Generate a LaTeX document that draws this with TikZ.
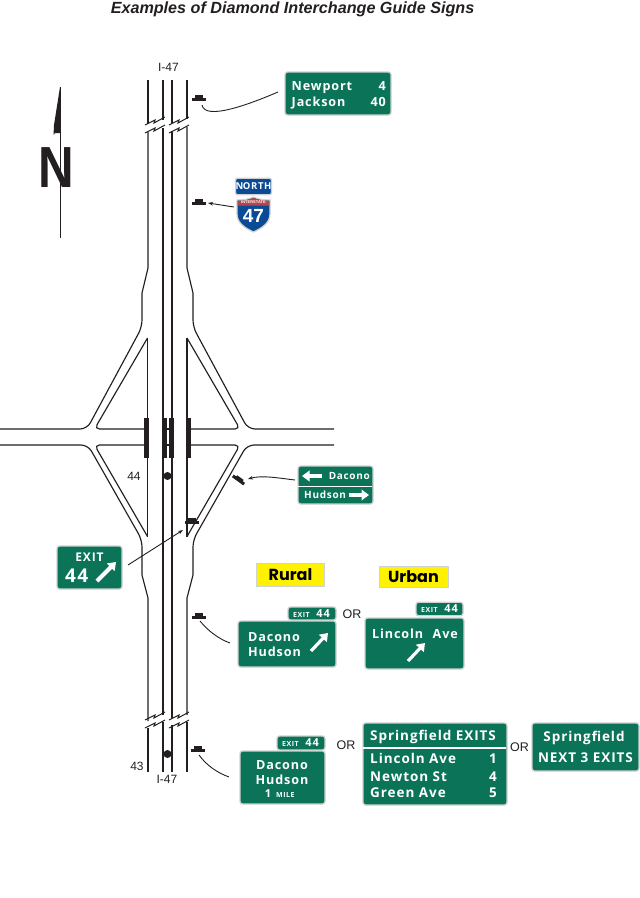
\documentclass[tikz,border=0pt]{standalone}
\usepackage{fontspec}
\setmainfont{Liberation Sans}
\newfontfamily\signfont[LetterSpace=7]{Open Sans}
\newfontfamily\labfont{Poppins}
\usetikzlibrary{positioning,arrows.meta}
\definecolor{signgreen}{HTML}{0A7358}
\definecolor{signedge}{HTML}{CFD3D1}
\definecolor{shieldblue}{HTML}{0B4A94}
\definecolor{shieldred}{HTML}{B2474F}
\definecolor{roadink}{HTML}{231F20}
\newcommand{\fsz}[1]{\fontsize{#1}{#1}\selectfont}
\tikzset{
  road/.style={draw=roadink, line width=1.15pt},
  brk/.style={draw=roadink, line width=1pt},
  bridgebar/.style={fill=roadink, draw=none, minimum width=5pt, minimum height=40pt, inner sep=0pt},
  signbar/.style={fill=roadink, draw=none, minimum width=14pt, minimum height=3pt, inner sep=0pt},
  signbump/.style={fill=roadink, draw=none, minimum width=8pt, minimum height=3pt, inner sep=0pt},
  markdot/.style={circle, fill=roadink, draw=none, minimum size=8pt, inner sep=0pt},
  greensign/.style={draw=signedge, fill=signgreen, line width=1.3pt, rounded corners=2.5pt, inner sep=0pt},
  leader/.style={draw=roadink, line width=0.9pt},
  leadarrow/.style={leader, -{Stealth[length=5pt, width=3.6pt]}},
  signarrow/.style={draw=white, line width=3.2pt, -{Triangle[length=7.5pt, width=10.5pt]}},
  bigtext/.style={text=white, inner sep=0pt, font=\signfont\bfseries\fsz{12.6}},
  listtext/.style={text=white, inner sep=0pt, font=\signfont\bfseries\fsz{13.5}},
  midtext/.style={text=white, inner sep=0pt, font=\signfont\bfseries\fsz{10}},
  tabnum/.style={text=white, inner sep=0pt, font=\signfont\bfseries\fsz{11}},
  smalltext/.style={text=white, inner sep=0pt, font=\signfont\bfseries\fsz{7}},
  plainlab/.style={text=roadink, inner sep=0pt, font=\fsz{12}},
  orlab/.style={text=roadink, inner sep=0pt, font=\fsz{12.5}},
  areabox/.style={fill=yellow, draw=signedge, line width=0.5pt, inner sep=0pt, text=black,
    font=\labfont\bfseries\fsz{16}},
}
\begin{document}
\begin{tikzpicture}[x=1pt, y=-1pt]
\useasboundingbox (0,0) rectangle (640,898);
\node[font=\bfseries\itshape\fsz{16.15}, text=roadink, inner sep=0pt] (title) at (292.5,9.5) {Examples of Diamond Interchange Guide Signs};
% north arrow
\node[font=\bfseries\fsz{58}, text=roadink, inner sep=0pt, xscale=0.85] (northn) at (56,168) {N};
\draw[roadink, line width=0.9pt] (60,87) -- (60,238);
\fill[roadink] (60,87) -- (60,133) -- (55,133) -- (53.5,135) -- (54,125) -- cycle;
% freeway, top and bottom breaks
\draw[road] (148,80) -- (148,124);
\draw[road] (163,80) -- (163,120);
\draw[road] (172,80) -- (172,123);
\draw[road] (187,80) -- (187,119);
\draw[road] (163,128) -- (163,715);
\draw[road] (163,722) -- (163,772);
\draw[road] (172,131) -- (172,718);
\draw[road] (172,725) -- (172,772);
\draw[road] (148,728) -- (148,772);
\draw[road] (187,722) -- (187,772);
\foreach \dx/\dy in {0/0, 24/0, 0/595, 24/595} {
  \draw[brk] (145+\dx,125+\dy) -- (155+\dx,120+\dy) -- (154+\dx,123+\dy) -- (165+\dx,117+\dy);
  \draw[brk] (145+\dx,133+\dy) -- (155+\dx,128+\dy) -- (154+\dx,131+\dy) -- (165+\dx,125+\dy);
}
% ramps and crossroad
\draw[road] (148,132) -- (148,268) -- (142,293) -- (142,315) [rounded corners=7pt] -- (142,327) -- (87,429) -- (0,429);
\draw[road] (187,127) -- (187,268) -- (193,293) -- (193,315) [rounded corners=7pt] -- (193,327) -- (248,429) -- (334,429);
\draw[road, rounded corners=7pt] (0,445) -- (88,445) -- (142,540) -- (142,555) [sharp corners] -- (142,575) -- (148,598) -- (148,721);
\draw[road, rounded corners=7pt] (334,445) -- (247,445) -- (193,540) -- (193,555) [sharp corners] -- (193,575) -- (187,598) -- (187,715);
\draw[road] (147.5,338) -- (147.5,536.5);
\draw[road] (187,338) -- (187,536.5);
\draw[road, rounded corners=5pt] (147.5,338) -- (94.5,429) -- (147.5,429);
\draw[road, rounded corners=5pt] (187,338) -- (240,429) -- (187,429);
\draw[road, rounded corners=5pt] (147.5,536.5) -- (94.5,445) -- (147.5,445);
\draw[road, rounded corners=5pt] (187,536.5) -- (240,445) -- (187,445);
\draw[road] (163,429) -- (172,429);
\draw[road] (163,445) -- (172,445);
% bridges
\node[bridgebar] (bra) at (146.8,438) {};
\node[bridgebar] (brb) at (164.3,438) {};
\node[bridgebar] (brc) at (171.5,438) {};
\node[bridgebar] (brd) at (188,438) {};
% exit markers and route labels
\node[markdot] (dottop) at (167.5,476) {};
\node[markdot] (dotbot) at (167.5,754) {};
\node[plainlab] (lab44) at (134,476) {44};
\node[plainlab] (lab43) at (137,766) {43};
\node[plainlab] (routetop) at (168.5,67) {I-47};
\node[plainlab] (routebot) at (167,779) {I-47};
% sign symbols
\node[signbar] (syma) at (199,99.3) {};
\node[signbump, above=-0.5pt of syma] (symab) {};
\node[signbar] (symb) at (199,203) {};
\node[signbump, above=-0.5pt of symb] (symbb) {};
\node[signbar] (symc) at (191.5,522.5) {};
\node[signbump, above=-0.5pt of symc] (symcb) {};
\node[signbar] (symd) at (199,617.5) {};
\node[signbump, above=-0.5pt of symd] (symdb) {};
\node[signbar] (syme) at (198,750) {};
\node[signbump, above=-0.5pt of syme] (symeb) {};
\node[signbar, rotate=-36] (symf) at (238.5,480) {};
\node[signbump, rotate=-36] (symfb) at (239.5,478.8) {};
% signs
\node[greensign, minimum width=106pt, minimum height=43pt] (newport) at (338,93.5) {};
\node[bigtext, anchor=base west] (newa) at (291.5,90) {Newport};
\node[bigtext, anchor=base east] (newb) at (386,90) {4};
\node[bigtext, anchor=base west] (newc) at (291.5,106) {Jackson};
\node[bigtext, anchor=base east] (newd) at (386,106) {40};
\coordinate (newtail) at (278,92);
\coordinate (newhead) at (202,105);
\draw[leader] (newtail) .. controls (250,104) and (205,121) .. (newhead);
% route shield
\node[draw=signedge, fill=shieldblue, line width=1.3pt, rounded corners=2pt, minimum width=34pt, minimum height=16.5pt, inner sep=0pt, text=white, font=\signfont\bfseries\fsz{9.5}] (northsign) at (253.5,186.5) {N\kern-0.4pt ORTH};
\draw[signedge, fill=shieldblue, line width=1.3pt] (237,200) .. controls (245,200) and (249,199) .. (253.5,197) .. controls (258,199) and (262,200) .. (270,200) -- (270,214) .. controls (270,223) and (262,228) .. (253.5,232) .. controls (245,228) and (237,223) .. (237,214) -- cycle;
\fill[shieldred] (237.7,200.6) .. controls (245,200.6) and (249,199.6) .. (253.5,197.8) .. controls (258,199.6) and (262,200.6) .. (269.3,200.6) -- (269.3,205.5) -- (237.7,205.5) -- cycle;
\node[text=white, inner sep=0pt, font=\bfseries\fsz{4}] (interstate) at (253.5,202.5) {INTERSTATE};
\node[text=white, inner sep=0pt, font=\bfseries\fsz{19}, anchor=base] (shield47) at (253.5,222) {47};
\coordinate (shieldtail) at (234,207);
\coordinate (shieldhead) at (208,203);
\draw[leadarrow] (shieldtail) -- (shieldhead);
% crossroad direction sign
\node[greensign, minimum width=75pt, minimum height=38pt] (dirsign) at (335.5,485) {};
\draw[white, line width=1pt] (dirsign.west) ++(0.6,1.5) -- ++(73.8,0);
\node[midtext, anchor=base east] (dira) at (370,479.5) {Dacono};
\node[midtext, anchor=base west] (dirb) at (304,498) {Hudson};
\coordinate (dirla) at (322,476);
\coordinate (dirlb) at (302,476);
\coordinate (dirra) at (349,495);
\coordinate (dirrb) at (369,495);
\draw[signarrow] (dirla) -- (dirlb);
\draw[signarrow] (dirra) -- (dirrb);
\coordinate (dirtail) at (295,480);
\coordinate (dirhead) at (248,479);
\draw[leadarrow] (dirtail) .. controls (278,478) and (262,475) .. (dirhead);
% gore sign
\node[greensign, minimum width=65pt, minimum height=43pt] (goresign) at (89.5,567.5) {};
\node[midtext, anchor=base, font=\signfont\bfseries\fsz{12}] (goreexit) at (89.5,561) {EXIT};
\node[bigtext, anchor=base west, font=\signfont\bfseries\fsz{19}] (gorenum) at (65,582) {44};
\coordinate (gorea) at (97,581);
\coordinate (goreb) at (116,562);
\draw[signarrow, line width=4pt] (gorea) -- (goreb);
\coordinate (goretail) at (128,565);
\coordinate (gorehead) at (183,530);
\draw[leadarrow] (goretail) -- (gorehead);
% rural and urban
\node[areabox, minimum width=68pt, minimum height=23pt] (rural) at (290.5,575) {Rural};
\node[areabox, minimum width=69pt, minimum height=21pt] (urban) at (413.5,576.5) {Urban};
% rural exit sign
\node[greensign, minimum width=48pt, minimum height=13pt] (tabrural) at (312,613.5) {};
\node[smalltext, anchor=base west] (tabrurala) at (293,617) {EXIT};
\node[tabnum, anchor=base east] (tabruralb) at (330,617) {44};
\node[greensign, minimum width=98pt, minimum height=46pt] (ruralsign) at (287,644) {};
\node[bigtext, anchor=base west] (rurala) at (248,641) {Dacono};
\node[bigtext, anchor=base west] (ruralb) at (248,656) {Hudson};
\coordinate (ruralarra) at (311,651);
\coordinate (ruralarrb) at (328,633);
\draw[signarrow] (ruralarra) -- (ruralarrb);
\coordinate (ruraltail) at (230,643);
\coordinate (ruralhead) at (200,621);
\draw[leader] (ruraltail) .. controls (219,639) and (208,631) .. (ruralhead);
\node[orlab] (ora) at (352,614) {OR};
% urban exit sign
\node[greensign, minimum width=47pt, minimum height=13.5pt] (taburban) at (439.5,609) {};
\node[smalltext, anchor=base west] (taburbana) at (421,612) {EXIT};
\node[tabnum, anchor=base east] (taburbanb) at (458,612) {44};
\node[greensign, minimum width=99pt, minimum height=51pt] (urbansign) at (414.5,643.5) {};
\node[bigtext, anchor=base west] (urbana) at (372,638) {Lincoln};
\node[bigtext, anchor=base east] (urbanb) at (458,638) {Ave};
\coordinate (urbanarra) at (408,661);
\coordinate (urbanarrb) at (425,643);
\draw[signarrow] (urbanarra) -- (urbanarrb);
% advance sign
\node[greensign, minimum width=48pt, minimum height=14pt] (tabadv) at (301,743) {};
\node[smalltext, anchor=base west] (tabadva) at (282,746) {EXIT};
\node[tabnum, anchor=base east] (tabadvb) at (319,746) {44};
\node[greensign, minimum width=85pt, minimum height=53pt] (advsign) at (282.5,777.5) {};
\node[bigtext, anchor=base] (adva) at (282,769) {Dacono};
\node[bigtext, anchor=base] (advb) at (282,784) {Hudson};
\node[tabnum, anchor=base] (advc) at (268,797) {1};
\node[smalltext, anchor=base west] (advd) at (276,797) {MILE};
\coordinate (advtail) at (229,777);
\coordinate (advhead) at (199,755);
\draw[leader] (advtail) .. controls (218,773) and (207,766) .. (advhead);
\node[orlab] (orb) at (346,745) {OR};
% list of exits
\node[greensign, minimum width=144pt, minimum height=82pt] (listsign) at (435,764) {};
\draw[white, line width=1.2pt] (listsign.west) ++(0.6,-16) -- ++(142.8,0);
\node[listtext, anchor=base west] (lista) at (370,740) {Springfield EXITS};
\node[listtext, anchor=base west] (listb) at (370,763) {Lincoln Ave};
\node[listtext, anchor=base east] (listbn) at (497,763) {1};
\node[listtext, anchor=base west] (listc) at (370,781) {Newton St};
\node[listtext, anchor=base east] (listcn) at (497,781) {4};
\node[listtext, anchor=base west] (listd) at (370,797) {Green Ave};
\node[listtext, anchor=base east] (listdn) at (497,797) {5};
\node[orlab] (orc) at (519.5,747) {OR};
% next exits sign
\node[greensign, minimum width=107pt, minimum height=48pt] (nextsign) at (585.5,747) {};
\node[listtext, anchor=base] (nexta) at (584,741) {Springfield};
\node[listtext, anchor=base] (nextb) at (585.5,762) {NEXT 3 EXITS};
\end{tikzpicture}
\end{document}
